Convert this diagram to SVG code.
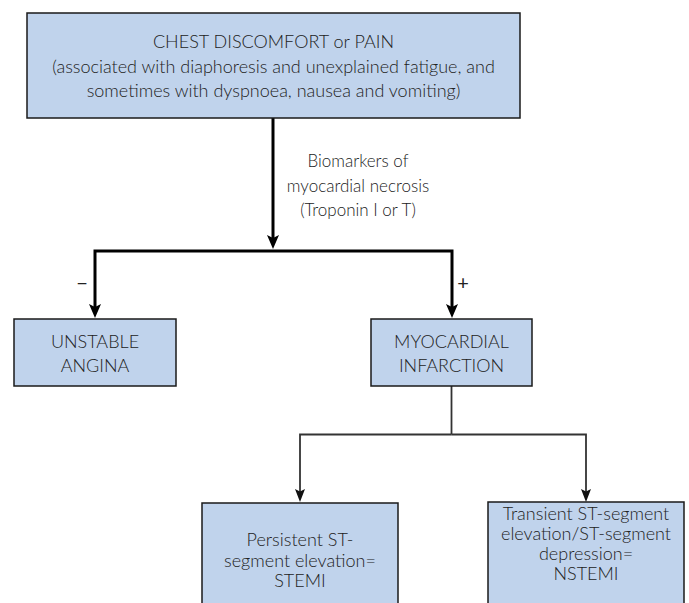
<svg xmlns="http://www.w3.org/2000/svg" width="689" height="603" viewBox="0 0 689 603">
<style>
.box{fill:#c0d3ec;stroke:#1a1a1a;stroke-width:1.5}
.t{font-family:Lato,"Liberation Sans",sans-serif;font-size:18px;font-weight:300;fill:#222;text-anchor:middle}
.lbl{font-family:Lato,"Liberation Sans",sans-serif;font-size:17px;font-weight:300;fill:#222;text-anchor:middle}
.sign{font-family:Lato,"Liberation Sans",sans-serif;font-size:20px;fill:#222;text-anchor:middle}
.thick{fill:none;stroke:#000;stroke-width:3}
.thin{fill:none;stroke:#333;stroke-width:1.8}
</style>
<defs>
<marker id="ahT" markerUnits="userSpaceOnUse" markerWidth="16" markerHeight="14" refX="6" refY="6" orient="auto" overflow="visible">
<path d="M0,0 L14,6 L0,12 L3,6 Z" fill="#000"/>
</marker>
<marker id="ahN" markerUnits="userSpaceOnUse" markerWidth="14" markerHeight="12" refX="5" refY="5" orient="auto" overflow="visible">
<path d="M0,0 L13,5 L0,10 L2.5,5 Z" fill="#111"/>
</marker>
</defs>
<g id="connectors">
<path class="thick" d="M273,118 V241" marker-end="url(#ahT)"/>
<path class="thick" d="M273,251 H95 V310" marker-end="url(#ahT)"/>
<path class="thick" d="M273,251 H452 V310" marker-end="url(#ahT)"/>
<path class="thin" d="M451.5,386 V434.5"/>
<path class="thin" d="M451.5,434.5 H300 V494" marker-end="url(#ahN)"/>
<path class="thin" d="M451.5,434.5 H586 V494" marker-end="url(#ahN)"/>
<text class="lbl" x="358" y="167">Biomarkers of</text>
<text class="lbl" x="358" y="191.5">myocardial necrosis</text>
<text class="lbl" x="358" y="216">(Troponin I or T)</text>
<text class="sign" x="82" y="290">−</text>
<text class="sign" x="463" y="290">+</text>
</g>
<g id="chest">
<rect class="box" x="27" y="13" width="493" height="105"/>
<text class="t" x="273.5" y="48">CHEST DISCOMFORT or PAIN</text>
<text class="t" x="273.5" y="73">(associated with diaphoresis and unexplained fatigue, and</text>
<text class="t" x="273.5" y="97">sometimes with dyspnoea, nausea and vomiting)</text>
</g>
<g id="unstable">
<rect class="box" x="14" y="319" width="162" height="67"/>
<text class="t" x="95" y="348">UNSTABLE</text>
<text class="t" x="95" y="372">ANGINA</text>
</g>
<g id="mi">
<rect class="box" x="371" y="319" width="161" height="67"/>
<text class="t" x="451.5" y="348">MYOCARDIAL</text>
<text class="t" x="451.5" y="372">INFARCTION</text>
</g>
<g id="stemi">
<rect class="box" x="202" y="503" width="196" height="110"/>
<text class="t" x="300" y="546">Persistent ST-</text>
<text class="t" x="300" y="566.5">segment elevation=</text>
<text class="t" x="300" y="587">STEMI</text>
</g>
<g id="nstemi">
<rect class="box" x="488" y="502" width="196" height="110"/>
<text class="t" x="586" y="519.5">Transient ST-segment</text>
<text class="t" x="586" y="539.5">elevation/ST-segment</text>
<text class="t" x="586" y="559.5">depression=</text>
<text class="t" x="586" y="579.5">NSTEMI</text>
</g>
</svg>
